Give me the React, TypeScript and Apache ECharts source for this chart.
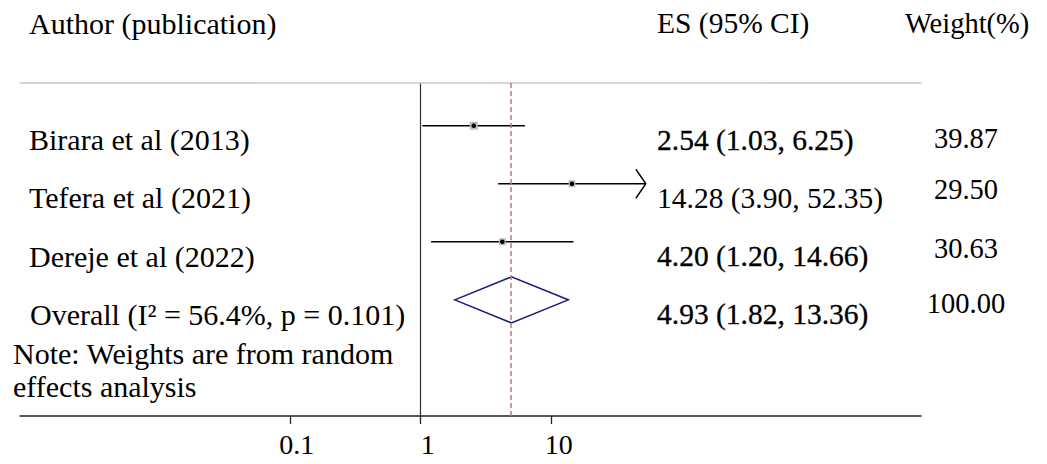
import React, { useEffect, useRef } from "react";
import * as echarts from "echarts";

// ---------- data ----------
const studies = ["Birara et al (2013)", "Tefera et al (2021)", "Dereje et al (2022)"];
const esValues = [2.54, 14.28, 4.2];
const ciLower = [1.03, 3.9, 1.2];
const ciUpper = [6.25, 52.35, 14.66];
const weights = [39.87, 29.5, 30.63];

const overallLabel = "Overall (I\u00B2 = 56.4%, p = 0.101)";
const overallES = 4.93;
const overallLower = 1.82;
const overallUpper = 13.36;
const overallWeight = 100.0;

const noteLines = ["Note: Weights are from random", "effects analysis"];
const headers = ["Author (publication)", "ES (95% CI)", "Weight(%)"];

const tickValues = [0.1, 1, 10];
const tickLabels = ["0.1", "1", "10"];

// ---------- layout / style ----------
const W = 1047;
const H = 464;
const FONT = "'Liberation Serif', 'Times New Roman', serif";
const X_MIN = -3.06;
const X_MAX = 3.82;
const Y_MIN = -0.735;
const Y_MAX = 5.0;
const ARROW_ABOVE = 50;
const BOX_SCALE = 1.27;
const DIAMOND_HALF_H = 23;
const heavyES = [true, false, true, true];

const lg = (v: number) => Math.log10(v);
const fmtCI = (e: number, l: number, u: number) =>
  `${e.toFixed(2)} (${l.toFixed(2)}, ${u.toFixed(2)})`;

export default function App() {
  const ref = useRef<HTMLDivElement>(null);

  useEffect(() => {
    if (!ref.current) return;
    const chart = echarts.init(ref.current, null, { renderer: "svg" });

    const studyData = studies.map((_, i) => [
      lg(ciLower[i]),
      lg(ciUpper[i]),
      lg(esValues[i]),
      i,
      weights[i],
      ciUpper[i],
    ]);
    const overallData = [[lg(overallLower), lg(overallUpper), lg(overallES), studies.length]];

    const textEl = (
      text: string,
      x: number,
      y: number,
      fontSize: number,
      align: string = "left",
      heavy = false
    ) => ({
      type: "text",
      x,
      y,
      silent: true,
      style: {
        text,
        fontSize,
        fontFamily: FONT,
        fill: "#000",
        align,
        verticalAlign: "middle",
        textAlign: align,
        textVerticalAlign: "middle",
        ...(heavy ? { stroke: "#000", lineWidth: 0.3 } : {}),
      },
    });

    const labelY = [139, 197.5, 256];
    const esY = [140, 198, 256, 314];
    const wY = [138.5, 189.5, 248.5, 303.5];
    const noteY = [353, 386];

    const graphics: any[] = [
      textEl(headers[0], 29, 23, 30),
      textEl(headers[1], 657, 23, 29.5),
      textEl(headers[2], 905, 23, 28.5),
    ];
    studies.forEach((s, i) => {
      graphics.push(textEl(s, 29, labelY[i], 30));
      graphics.push(
        textEl(fmtCI(esValues[i], ciLower[i], ciUpper[i]), 657, esY[i], 29.5, "left", heavyES[i])
      );
      graphics.push(textEl(weights[i].toFixed(2), 966, wY[i], 28.5, "center"));
    });
    graphics.push(textEl(overallLabel, 30, 314, 30));
    graphics.push(
      textEl(fmtCI(overallES, overallLower, overallUpper), 657, esY[3], 29.5, "left", heavyES[3])
    );
    graphics.push(textEl(overallWeight.toFixed(2), 966, wY[3], 28.5, "center"));
    noteLines.forEach((line, i) => graphics.push(textEl(line, 13, noteY[i], 30)));

    const option: any = {
      animation: false,
      backgroundColor: "#fff",
      grid: { left: 20, right: W - 921, top: 83, bottom: H - 416, containLabel: false },
      xAxis: [
        {
          type: "value",
          min: X_MIN,
          max: X_MAX,
          axisLine: { show: true, onZero: false, lineStyle: { color: "#222", width: 1.5 } },
          axisTick: {
            show: true,
            customValues: tickValues.map(lg),
            length: 8,
            lineStyle: { color: "#222", width: 1.3 },
          },
          axisLabel: {
            show: true,
            customValues: tickValues.map(lg),
            margin: 14,
            padding: [0, 0, 0, 14],
            fontSize: 28,
            fontFamily: FONT,
            color: "#000",
            formatter: (v: number) => {
              const idx = tickValues.findIndex((t) => Math.abs(lg(t) - v) < 1e-6);
              return idx >= 0 ? tickLabels[idx] : "";
            },
          },
          splitLine: { show: false },
        },
        {
          type: "value",
          position: "top",
          min: X_MIN,
          max: X_MAX,
          axisLine: { show: true, onZero: false, lineStyle: { color: "#c8c8c8", width: 1.5 } },
          axisTick: { show: false },
          axisLabel: { show: false },
          splitLine: { show: false },
        },
      ],
      yAxis: {
        type: "value",
        inverse: true,
        min: Y_MIN,
        max: Y_MAX,
        axisLine: { show: true, onZero: true, lineStyle: { color: "#333", width: 1.2 } },
        axisTick: { show: false },
        axisLabel: { show: false },
        splitLine: { show: false },
      },
      graphic: graphics,
      series: [
        {
          type: "custom",
          name: "studies",
          clip: false,
          data: studyData,
          encode: { x: [0, 1, 2], y: 3 },
          renderItem: (params: any, api: any) => {
            const row = api.value(3);
            const lo = api.coord([api.value(0), row]);
            const hi = api.coord([api.value(1), row]);
            const pt = api.coord([api.value(2), row]);
            const side = BOX_SCALE * Math.sqrt(api.value(4));
            const children: any[] = [
              {
                type: "line",
                shape: { x1: lo[0], y1: lo[1], x2: hi[0], y2: hi[1] },
                style: { stroke: "#000", lineWidth: 1.6 },
              },
              {
                type: "rect",
                shape: { x: pt[0] - side / 2, y: pt[1] - side / 2, width: side, height: side },
                style: { fill: "#bdbdbd" },
              },
              {
                type: "circle",
                shape: { cx: pt[0], cy: pt[1], r: 2.3 },
                style: { fill: "#000" },
              },
            ];
            if (api.value(5) > ARROW_ABOVE) {
              children.push({
                type: "polyline",
                shape: {
                  points: [
                    [hi[0] - 10, hi[1] - 14.5],
                    [hi[0], hi[1]],
                    [hi[0] - 10, hi[1] + 14.5],
                  ],
                },
                style: { stroke: "#000", lineWidth: 1.4, fill: "none" },
              });
            }
            return { type: "group", children };
          },
        },
        {
          type: "custom",
          name: "overall",
          clip: false,
          data: overallData,
          encode: { x: [0, 1, 2], y: 3 },
          renderItem: (params: any, api: any) => {
            const row = api.value(3);
            const lo = api.coord([api.value(0), row]);
            const hi = api.coord([api.value(1), row]);
            const pt = api.coord([api.value(2), row]);
            return {
              type: "polygon",
              shape: {
                points: [
                  [lo[0], lo[1]],
                  [pt[0], pt[1] - DIAMOND_HALF_H],
                  [hi[0], hi[1]],
                  [pt[0], pt[1] + DIAMOND_HALF_H],
                ],
              },
              style: { stroke: "#1a1a7e", lineWidth: 1.6, fill: "none" },
            };
          },
          markLine: {
            silent: true,
            symbol: "none",
            label: { show: false },
            lineStyle: { color: "#c07a7a", type: [5, 3], width: 1.5 },
            data: [{ xAxis: lg(overallES) }],
          },
        },
      ],
    };

    chart.setOption(option);
    return () => chart.dispose();
  }, []);

  return (
    <div
      ref={ref}
      style={{ position: "absolute", left: 0, top: 0, width: W, height: H, background: "#fff" }}
    />
  );
}
